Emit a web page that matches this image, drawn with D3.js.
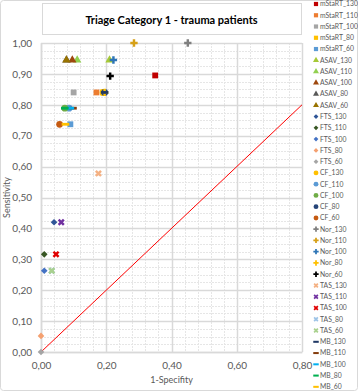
<!DOCTYPE html>
<html>
<head>
<meta charset="utf-8">
<script src="https://cdn.jsdelivr.net/npm/d3@7"></script>
<style>
  body { margin: 0; background: #fff; }
  svg { display: block; font-family: Lato, "Open Sans", sans-serif; }
</style>
</head>
<body>
<svg id="chart"></svg>
<script>
// series, in the order excel draws them (later ones on top)
const seriesNames = [
  'mStaRT_130', 'mStaRT_110', 'mStaRT_100', 'mStaRT_80', 'mStaRT_60',
  'ASAV_130', 'ASAV_110', 'ASAV_100', 'ASAV_80', 'ASAV_60',
  'FTS_130', 'FTS_110', 'FTS_100', 'FTS_80', 'FTS_60',
  'CF_130', 'CF_110', 'CF_100', 'CF_80', 'CF_60',
  'Nor_130', 'Nor_110', 'Nor_100', 'Nor_80', 'Nor_60',
  'TAS_130', 'TAS_110', 'TAS_100', 'TAS_80', 'TAS_60',
  'MB_130', 'MB_110', 'MB_100', 'MB_80', 'MB_60'
];
// 1 - specificity
const oneMinusSpec = [
  0.350, 0.170, 0.100, 0.190, 0.090,
  0.210, 0.111, 0.096, 0.078, 0.078,
  0.040, 0.010, 0.010, 0.000, 0.000,
  0.190, 0.086, 0.073, 0.195, 0.057,
  0.450, 0.285, 0.222, 0.195, 0.212,
  0.176, 0.062, 0.046, 0.033, 0.033,
  0.195, 0.098, 0.090, 0.073, 0.075
];
const sensitivity = [
  0.895, 0.840, 0.840, 0.840, 0.737,
  0.945, 0.945, 0.945, 0.945, 0.945,
  0.420, 0.316, 0.263, 0.052, 0.000,
  0.840, 0.789, 0.789, 0.840, 0.737,
  1.000, 1.000, 0.945, 0.840, 0.893,
  0.578, 0.420, 0.316, 0.263, 0.263,
  0.840, 0.789, 0.789, 0.789, 0.737
];
const xTicks = [0, 0.2, 0.4, 0.6, 0.8];
const yTicks = [0, 0.1, 0.2, 0.3, 0.4, 0.5, 0.6, 0.7, 0.8, 0.9, 1.0];
const refLine = [0, 0.8];

class RocScatter {
  constructor(_config) {
    this.config = {
      parentElement: _config.parentElement,
      containerWidth: _config.containerWidth,
      containerHeight: _config.containerHeight,
      margin: {top: 43, right: 56, bottom: 39, left: 41},
    }
    this.initVis();
  }

  initVis() {
    let vis = this;

    vis.width = vis.config.containerWidth - vis.config.margin.left - vis.config.margin.right;
    vis.height = vis.config.containerHeight - vis.config.margin.top - vis.config.margin.bottom;

    vis.xScale = d3.scaleLinear().domain([0, 0.8]).range([0, vis.width]);
    vis.yScale = d3.scaleLinear().domain([0, 1]).range([vis.height, 0]);

    vis.svg = d3.select(vis.config.parentElement)
        .attr('width', vis.config.containerWidth)
        .attr('height', vis.config.containerHeight);

    // chart area border
    vis.svg.append('rect')
        .attr('x', 0.5).attr('y', 0.5)
        .attr('width', vis.config.containerWidth - 1)
        .attr('height', vis.config.containerHeight - 1)
        .attr('rx', 3)
        .attr('fill', '#fff')
        .attr('stroke', '#d9d9d9');

    vis.chart = vis.svg.append('g')
        .attr('transform', `translate(${vis.config.margin.left},${vis.config.margin.top})`);

    vis.renderVis();
  }

  renderVis() {
    let vis = this;
    const x = vis.xScale, y = vis.yScale;

    // minor grid
    const xMinor = d3.range(0, 0.8001, 0.04);
    const yMinor = d3.range(0, 1.0001, 0.025);
    vis.chart.append('g').selectAll('line').data(xMinor).join('line')
        .attr('x1', d => Math.round(x(d)) + 0.5).attr('x2', d => Math.round(x(d)) + 0.5)
        .attr('y1', 0).attr('y2', vis.height)
        .attr('stroke', '#e6e6e6').attr('stroke-dasharray', '2,1');
    vis.chart.append('g').selectAll('line').data(yMinor).join('line')
        .attr('y1', d => Math.round(y(d)) + 0.5).attr('y2', d => Math.round(y(d)) + 0.5)
        .attr('x1', 0).attr('x2', vis.width)
        .attr('stroke', '#e6e6e6').attr('stroke-dasharray', '2,1');

    // major grid
    vis.chart.append('g').selectAll('line').data(xTicks).join('line')
        .attr('x1', d => Math.round(x(d)) + 0.5).attr('x2', d => Math.round(x(d)) + 0.5)
        .attr('y1', 0).attr('y2', vis.height)
        .attr('stroke', '#d9d9d9').attr('stroke-width', 1.5);
    vis.chart.append('g').selectAll('line').data(yTicks).join('line')
        .attr('y1', d => Math.round(y(d)) + 0.5).attr('y2', d => Math.round(y(d)) + 0.5)
        .attr('x1', 0).attr('x2', vis.width)
        .attr('stroke', '#d9d9d9').attr('stroke-width', 1.5);

    // axes
    const fmt = d => d3.format('.2f')(d).replace('.', ',');
    const xAxis = d3.axisBottom(x).tickValues(xTicks).tickFormat(fmt).tickSize(0).tickPadding(10);
    const yAxis = d3.axisLeft(y).tickValues(yTicks).tickFormat(fmt).tickSize(0).tickPadding(9);
    const xAxisG = vis.chart.append('g').attr('transform', `translate(0,${vis.height})`).call(xAxis);
    const yAxisG = vis.chart.append('g').call(yAxis);
    [xAxisG, yAxisG].forEach(g => {
      g.select('.domain').attr('stroke', '#d9d9d9').attr('stroke-width', 1.5);
      g.selectAll('text').attr('fill', '#595959').attr('font-size', 10)
          .attr('font-family', 'Lato, sans-serif');
    });

    // reference diagonal
    vis.chart.append('line')
        .attr('x1', x(refLine[0])).attr('y1', y(refLine[0]))
        .attr('x2', x(refLine[1])).attr('y2', y(refLine[1]))
        .attr('stroke', '#ff0000').attr('stroke-width', 1);

    // markers
    const colors = [
      '#c00000', '#ed7d31', '#a5a5a5', '#ffc000', '#5b9bd5',
      '#a6c936', '#92d050', '#9e480e', '#595959', '#997300',
      '#2f5597', '#375623', '#4472c4', '#f4a070', '#a5a5a5',
      '#ffc000', '#5b9bd5', '#70ad47', '#264478', '#c55a11',
      '#7f7f7f', '#d6a017', '#2e75b6', '#ffc000', '#000000',
      '#f4b183', '#7030a0', '#e00000', '#9dc3e6', '#a9d18e',
      '#1f3864', '#843c0c', '#00b0f0', '#00b050', '#ffc000'
    ];
    const shapes = ['square', 'triangle', 'diamond', 'circle', 'plus', 'x', 'dash'];
    const drawMarker = (g, shape, color, s) => {
      if (shape === 'dash') {
        g.append('rect').attr('x', -3.8 * s).attr('y', -1.4 * s)
            .attr('width', 7.6 * s).attr('height', 2.8 * s).attr('fill', color);
        return;
      }
      let sym = d3.symbolSquare, size = 34, rot = 0;
      if (shape === 'triangle') { sym = d3.symbolTriangle; size = 30; }
      if (shape === 'diamond') { sym = d3.symbolSquare; size = 22; rot = 45; }
      if (shape === 'circle') { sym = d3.symbolCircle; size = 36; }
      if (shape === 'plus') { sym = d3.symbolCross; size = 30; }
      if (shape === 'x') { sym = d3.symbolCross; size = 30; rot = 45; }
      g.append('path')
          .attr('d', d3.symbol(sym, size * s * s)())
          .attr('transform', `rotate(${rot})`)
          .attr('fill', color);
    };

    seriesNames.forEach((name, i) => {
      const g = vis.chart.append('g')
          .attr('transform', `translate(${x(oneMinusSpec[i])},${y(sensitivity[i])})`);
      drawMarker(g, shapes[Math.floor(i / 5)], colors[i], 1);
    });

    // legend
    const legend = vis.svg.append('g').attr('transform', 'translate(316,4)');
    seriesNames.forEach((name, i) => {
      const row = legend.append('g').attr('transform', `translate(0,${i * 11.26})`);
      drawMarker(row, shapes[Math.floor(i / 5)], colors[i], 0.72);
      row.append('text').attr('x', 4).attr('dy', '0.35em')
          .attr('font-size', 6.8).attr('fill', '#595959').text(name);
    });

    // title box
    const cx = vis.config.margin.left + vis.width / 2;
    vis.svg.append('rect')
        .attr('x', 42.5).attr('y', 3.5).attr('width', 259).attr('height', 31)
        .attr('fill', '#fff').attr('stroke', '#d9d9d9');
    vis.svg.append('text')
        .attr('x', cx).attr('y', 20).attr('dy', '0.35em')
        .attr('text-anchor', 'middle')
        .attr('font-size', 11).attr('font-weight', 'bold').attr('fill', '#000')
        .text('Triage Category 1 - trauma patients');

    // axis titles
    vis.svg.append('text')
        .attr('x', cx).attr('y', 380).attr('dy', '0.35em')
        .attr('text-anchor', 'middle')
        .attr('font-size', 9).attr('fill', '#595959')
        .text('1-Specifity');
    vis.svg.append('text')
        .attr('transform', `translate(7,${vis.config.margin.top + vis.height / 2}) rotate(-90)`)
        .attr('dy', '0.35em')
        .attr('text-anchor', 'middle')
        .attr('font-size', 9).attr('fill', '#595959')
        .text('Sensitivity');
  }
}

new RocScatter({parentElement: '#chart', containerWidth: 358, containerHeight: 391});
</script>
</body>
</html>
